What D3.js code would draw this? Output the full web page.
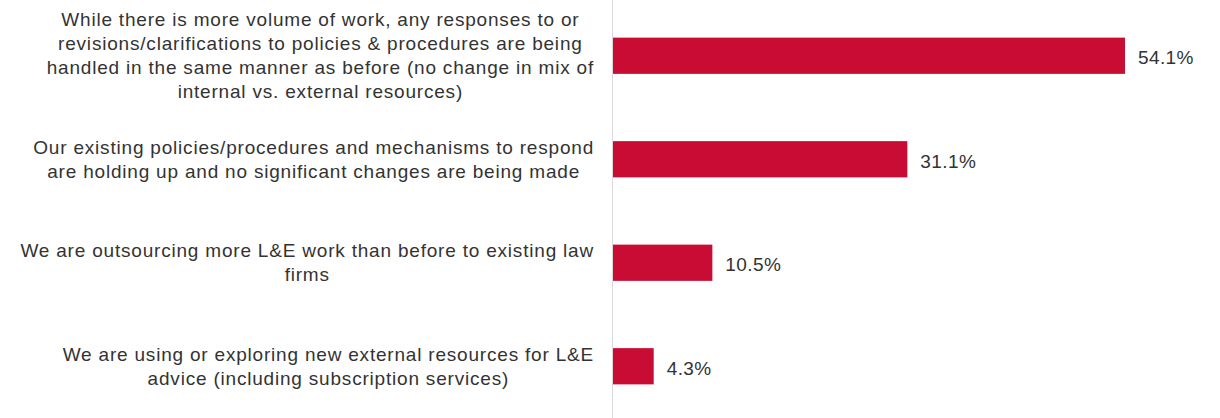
<!DOCTYPE html>
<html>
<head>
<meta charset="utf-8">
<script src="https://cdn.jsdelivr.net/npm/d3@7"></script>
<style>
  body { margin: 0; background: #fff; }
  svg { display: block; font-family: Arial, "Liberation Sans", sans-serif; }
</style>
</head>
<body>
<svg id="chart"></svg>
<script>
// categories, one array of wrapped lines each
const categories = [
  ["While there is more volume of work, any responses to or",
   "revisions/clarifications to policies & procedures are being",
   "handled in the same manner as before (no change in mix of",
   "internal vs. external resources)"],
  ["Our existing policies/procedures and mechanisms to respond",
   "are holding up and no significant changes are being made"],
  ["We are outsourcing more L&E work than before to existing law",
   "firms"],
  ["We are using or exploring new external resources for L&E",
   "advice (including subscription services)"]
]
const values = [54.1, 31.1, 10.5, 4.3]
const valueLabels = ["54.1%", "31.1%", "10.5%", "4.3%"]

const w = 1220, h = 418
const x0 = 613          // axis position
const labelRight = 594  // right edge of the label blocks
const lineH = 24

const svg = d3.select('#chart').attr('width', w).attr('height', h)

const xScale = d3.scaleLinear()
  .domain([0, 54.1])
  .range([x0, 1125])

const yScale = d3.scaleBand()
  .domain(d3.range(values.length))
  .range([4, 418])
  .paddingInner(0.65)
  .paddingOuter(0.325)

// vertical axis line
svg.append('line')
  .attr('x1', x0 - 0.5).attr('x2', x0 - 0.5)
  .attr('y1', 0).attr('y2', h)
  .attr('stroke', '#d9d9d9')
  .attr('stroke-width', 1)

svg.selectAll('rect.bar')
  .data(values)
  .enter()
  .append('rect')
    .attr('class', 'bar')
    .attr('x', xScale(0))
    .attr('y', (d, i) => yScale(i))
    .attr('width', d => xScale(d) - xScale(0))
    .attr('height', yScale.bandwidth())
    .attr('fill', '#c80c34')

svg.selectAll('text.val')
  .data(values)
  .enter()
  .append('text')
    .attr('class', 'val')
    .attr('x', d => xScale(d) + 13)
    .attr('y', (d, i) => yScale(i) + yScale.bandwidth() / 2 + 2)
    .attr('dominant-baseline', 'central')
    .attr('font-size', 19)
    .attr('letter-spacing', 0.4)
    .attr('fill', '#333')
    .text((d, i) => valueLabels[i])

// category labels: lines centred inside a block whose right edge is fixed
categories.forEach((lines, i) => {
  const cy = yScale(i) + yScale.bandwidth() / 2
  const g = svg.append('g')
  const txt = g.selectAll('text')
    .data(lines)
    .enter()
    .append('text')
      .attr('font-size', 19)
      .attr('letter-spacing', 0.8)
      .attr('fill', '#333')
      .attr('text-anchor', 'middle')
      .attr('dominant-baseline', 'central')
      .attr('y', (d, j) => cy + (j - (lines.length - 1) / 2) * lineH)
      .text(d => d)
  let maxW = 0
  txt.each(function() { maxW = Math.max(maxW, this.getComputedTextLength()) })
  txt.attr('x', labelRight - maxW / 2)
})
</script>
</body>
</html>
